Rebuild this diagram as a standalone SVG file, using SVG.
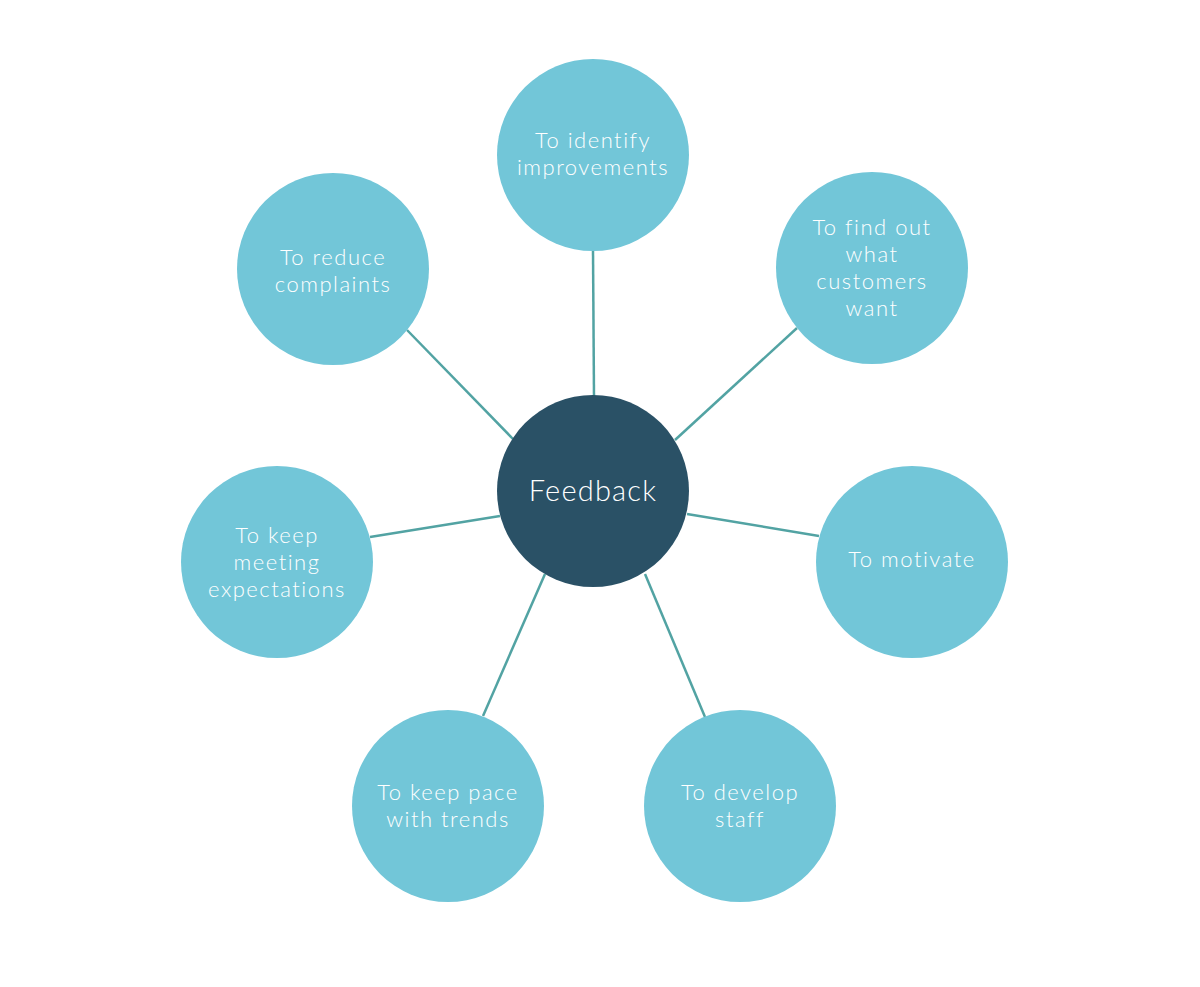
<svg xmlns="http://www.w3.org/2000/svg" width="1200" height="987" viewBox="0 0 1200 987">
<style>
.outer{fill:#72c6d8}
.center{fill:#2a5166}
.lbl{font-family:Lato,"Open Sans","Liberation Sans",sans-serif;font-weight:300;font-size:22px;fill:#ffffff;text-anchor:middle;letter-spacing:1.5px}
.big{font-size:29px;letter-spacing:1.2px}
.conn line{stroke:#52a3a3;stroke-width:2.5}
</style>
<rect width="1200" height="987" fill="#ffffff"/>
<g class="conn" id="connectors">
<line x1="593" y1="251" x2="594" y2="396"/>
<line x1="797" y1="328" x2="675" y2="440"/>
<line x1="407" y1="330" x2="513" y2="439"/>
<line x1="370" y1="537" x2="500" y2="516"/>
<line x1="687" y1="514" x2="819" y2="536"/>
<line x1="483" y1="716" x2="545" y2="574"/>
<line x1="705" y1="717" x2="645" y2="574"/>
</g>
<g id="n-top"><circle class="outer" cx="593" cy="155" r="96"/>
<text class="lbl" x="593" y="148">To identify</text><text class="lbl" x="593" y="175">improvements</text></g>
<g id="n-topright"><circle class="outer" cx="872" cy="268" r="96"/>
<text class="lbl" x="872" y="235">To find out</text><text class="lbl" x="872" y="262">what</text><text class="lbl" x="872" y="289">customers</text><text class="lbl" x="872" y="316">want</text></g>
<g id="n-topleft"><circle class="outer" cx="333" cy="269" r="96"/>
<text class="lbl" x="333" y="265">To reduce</text><text class="lbl" x="333" y="292">complaints</text></g>
<g id="n-left"><circle class="outer" cx="277" cy="562" r="96"/>
<text class="lbl" x="277" y="543">To keep</text><text class="lbl" x="277" y="570">meeting</text><text class="lbl" x="277" y="597">expectations</text></g>
<g id="n-right"><circle class="outer" cx="912" cy="562" r="96"/>
<text class="lbl" x="912" y="567">To motivate</text></g>
<g id="n-bottomleft"><circle class="outer" cx="448" cy="806" r="96"/>
<text class="lbl" x="448" y="800">To keep pace</text><text class="lbl" x="448" y="827">with trends</text></g>
<g id="n-bottomright"><circle class="outer" cx="740" cy="806" r="96"/>
<text class="lbl" x="740" y="800">To develop</text><text class="lbl" x="740" y="827">staff</text></g>
<g id="n-center"><circle class="center" cx="593" cy="491" r="96"/>
<text class="lbl big" x="593" y="501">Feedback</text></g>
</svg>
